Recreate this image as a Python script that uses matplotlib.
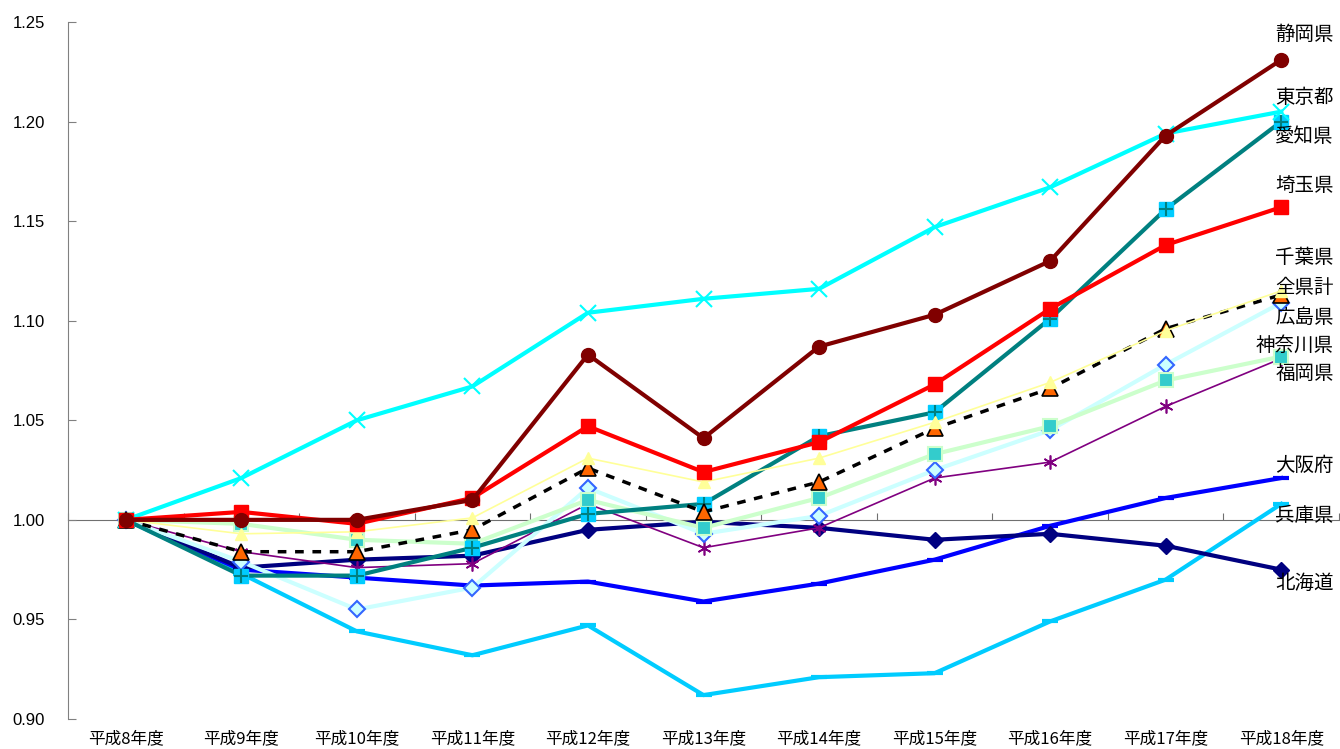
import numpy as np
import matplotlib.pyplot as plt

plt.rcParams['font.family'] = ['Noto Sans CJK JP', 'DejaVu Sans']

years = ['平成8年度', '平成9年度', '平成10年度', '平成11年度', '平成12年度', '平成13年度',
         '平成14年度', '平成15年度', '平成16年度', '平成17年度', '平成18年度']

shizuoka = [1.000, 1.000, 1.000, 1.010, 1.083, 1.041, 1.087, 1.103, 1.130, 1.193, 1.231]
tokyo = [1.000, 1.021, 1.050, 1.067, 1.104, 1.111, 1.116, 1.147, 1.167, 1.194, 1.205]
aichi = [1.000, 0.972, 0.972, 0.986, 1.003, 1.008, 1.042, 1.054, 1.101, 1.156, 1.200]
saitama = [1.000, 1.004, 0.998, 1.011, 1.047, 1.024, 1.039, 1.068, 1.106, 1.138, 1.157]
chiba = [1.000, 0.993, 0.994, 1.001, 1.031, 1.019, 1.031, 1.049, 1.069, 1.095, 1.115]
zenken = [1.000, 0.984, 0.984, 0.995, 1.026, 1.004, 1.019, 1.046, 1.066, 1.096, 1.113]
hiroshima = [1.000, 0.979, 0.955, 0.966, 1.016, 0.993, 1.002, 1.025, 1.045, 1.078, 1.109]
kanagawa = [1.000, 0.984, 0.976, 0.978, 1.008, 0.986, 0.996, 1.021, 1.029, 1.057, 1.081]
fukuoka = [1.000, 0.998, 0.990, 0.988, 1.010, 0.996, 1.011, 1.033, 1.047, 1.070, 1.082]
osaka = [1.000, 0.975, 0.971, 0.967, 0.969, 0.959, 0.968, 0.980, 0.997, 1.011, 1.021]
hyogo = [1.000, 0.973, 0.944, 0.932, 0.947, 0.912, 0.921, 0.923, 0.949, 0.970, 1.008]
hokkaido = [1.000, 0.976, 0.980, 0.982, 0.995, 0.999, 0.996, 0.990, 0.993, 0.987, 0.975]

x = np.arange(len(years))

fig = plt.figure(figsize=(13.4, 7.49), dpi=100)
ax = fig.add_axes([68 / 1340, 30 / 749, 1271 / 1340, 697 / 749])

# 線の描画（後に描いたものが上になる）
ax.plot(x, hyogo, color='#00CCFF', lw=3, marker='_', ms=11, mew=3)
ax.plot(x, osaka, color='#0000FF', lw=3, marker='_', ms=11, mew=3)
ax.plot(x, hokkaido, color='#000080', lw=3, marker='D', ms=8)
ax.plot(x, kanagawa, color='#800080', lw=1.2, marker=(6, 2, 0), ms=10, mew=1.2)
ax.plot(x, hiroshima, color='#CCFFFF', lw=3, marker='D', ms=8,
        mfc='#CCFFFF', mec='#3366FF', mew=1.5)
ax.plot(x, fukuoka, color='#CCFFCC', lw=3, marker='s', ms=10,
        mfc='#33CCCC', mec='#CCFFCC', mew=1.5)
ax.plot(x, aichi, color='#008080', lw=3, marker='s', ms=10,
        mfc='#00CCFF', mec='#00CCFF')
ax.plot(x, aichi, ls='none', marker='+', ms=10, mew=1.5, color='#008080')
ax.plot(x, zenken, color='black', lw=2.5, ls=(0, (2.5, 2.5)), marker='^', ms=11,
        mfc='#FF6600', mec='black', mew=1.2)
ax.plot(x, chiba, color='#FFFF99', lw=1.2, marker='^', ms=9,
        mfc='#FFFF99', mec='#FFFF99')
ax.plot(x, tokyo, color='#00FFFF', lw=3, marker='x', ms=11, mew=1.5)
ax.plot(x, saitama, color='#FF0000', lw=3, marker='s', ms=10)
ax.plot(x, shizuoka, color='#800000', lw=3, marker='o', ms=10)

# 系列名
names = ['静岡県', '東京都', '愛知県', '埼玉県', '千葉県', '全県計',
         '広島県', '神奈川県', '福岡県', '大阪府', '兵庫県', '北海道']
name_y = [1.2435, 1.2123, 1.1923, 1.1681, 1.1315, 1.1169,
          1.1014, 1.0878, 1.0737, 1.0275, 1.0024, 0.9683]
for n, yy in zip(names, name_y):
    xx = 9.95 if len(n) == 3 else 9.78
    ax.text(xx, yy, n, fontsize=14, va='center', ha='left', clip_on=False)

ax.set_xlim(-0.5, 10.5)
ax.set_ylim(0.90, 1.25)

ax.set_yticks(np.arange(0.90, 1.2501, 0.05))
ax.set_yticklabels(['%.2f' % v for v in np.arange(0.90, 1.2501, 0.05)],
                   family='Liberation Sans', fontsize=12)
ax.tick_params(axis='y', direction='in', length=6, color='#808080', pad=16.5)

ax.set_xticks(x)
ax.set_xticklabels(years, fontsize=12)
ax.tick_params(axis='x', length=0, pad=8)

for s in ['top', 'right', 'bottom']:
    ax.spines[s].set_visible(False)
ax.spines['left'].set_color('#808080')

# 1.00 の位置に横軸
sec = ax.secondary_xaxis((1.0 - 0.90) / 0.35)
sec.set_xticks(np.arange(-0.5, 11, 1))
sec.set_xticklabels([])
sec.tick_params(direction='in', length=5, color='#707070')
sec.spines['bottom'].set_color('#707070')

fig.savefig('out.png', dpi=100)
